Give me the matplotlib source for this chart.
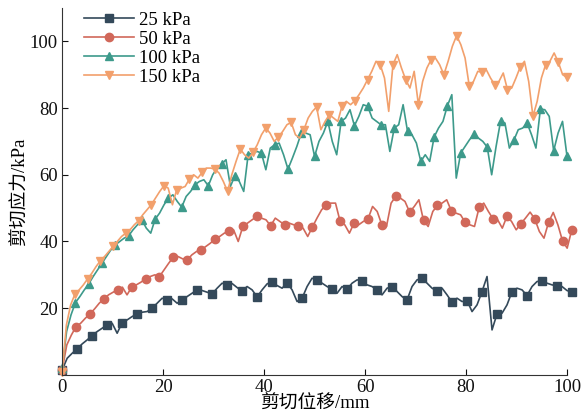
import numpy as np
import matplotlib
matplotlib.use("Agg")
import matplotlib.pyplot as plt

plt.rcParams['font.family'] = ['Liberation Serif', 'Noto Sans CJK SC']
plt.rcParams['font.size'] = 13.5

# sampling interval of each test (mm per sample)
step_25 = 0.99
step_50 = 0.9176
step_100 = 0.877
step_150 = 0.84

# shear stress (kPa)
tau_25 = [
    1.5, 5, 6.5, 7.8, 9.3, 10.5, 11.8, 13, 14, 15,
    15.5, 12.5, 15.7, 16.5, 17.5, 18.3, 18.8, 19, 20, 21.5,
    23, 22.5, 22.8, 21.5, 22.5, 23.5, 24.5, 25.5, 25.3, 24.8,
    24.3, 26, 27.5, 27, 27.4, 26.2, 25.2, 26.5, 25.5, 23.4,
    25.5, 27.3, 27.9, 26.8, 26, 27.6, 25.5, 22, 23, 26.5,
    29, 28.5, 27.5, 26.5, 25.7, 24.5, 26.5, 25.7, 27.5, 28.5,
    28.2, 27, 26.5, 25.5, 24, 26, 26.5, 25, 23.5, 22.5,
    26.5, 28.5, 29, 27.5, 26, 25.2, 26, 24, 21.8, 23,
    22, 22.3, 19, 21, 25, 29.5, 13.5, 18.3, 18.5, 21,
    25, 26, 25.5, 23.8, 26.5, 28, 28.2, 27.5, 27, 26.7,
    26.5, 25.3, 24.8]

tau_50 = [
    1.5, 9, 12, 14.5, 15.5, 17, 18.3, 19.8, 21.5, 22.8,
    24, 24.8, 25.5, 26.3, 24, 26.3, 27, 27.8, 28.8, 29.5,
    30, 29.5, 31.5, 33.5, 35.3, 35.5, 34.8, 34.5, 36, 37,
    37.5, 38.5, 39.5, 40.8, 41.5, 42.5, 43, 43.5, 40, 44.5,
    45.5, 46.5, 47.5, 47, 46.5, 44.7, 47, 46, 45, 45.5,
    45, 44.5, 44, 41.5, 44.3, 47, 49.5, 51, 51.5, 51.5,
    46, 45, 42.5, 45.5, 45, 46, 46.7, 50.5, 49, 45,
    44.5, 51.5, 53.5, 53, 52, 48.8, 50.5, 52.5, 46.3, 44.5,
    49, 50.8, 51.5, 52.5, 49.2, 48.5, 48, 45.7, 45, 44.5,
    50.2, 51.5, 49, 46.8, 46.5, 44, 47.5, 46, 43.5, 45.3,
    47, 48.8, 46.8, 43, 41, 45.8, 48.7, 45, 40.2, 38, 43.5]

tau_100 = [
    2, 13, 18, 21.7, 23.5, 25.5, 27.3, 29.5, 31.5, 33.5,
    35.5, 37.5, 39, 40, 41, 41.7, 43.5, 45, 46.5, 44,
    42.5, 46.7, 48.5, 51, 53, 54, 52, 50.3, 53.5, 55,
    57, 58, 58.5, 56.7, 60, 62, 63.2, 64.5, 56.5, 59.7,
    58, 55, 66, 66.5, 67, 66.5, 61.5, 68, 69, 69.5,
    66, 61.7, 65, 68.5, 72.5, 72.5, 72, 65.5, 70, 72.5,
    76, 70, 66, 76, 77, 79.5, 74.7, 77.5, 81, 80.5,
    77, 76, 75, 75, 67, 74, 75, 81, 73, 72,
    69.5, 64, 66, 64, 71.3, 74, 76, 80.7, 84, 59,
    66.5, 68.5, 70.5, 72.2, 71, 70, 68.3, 60, 68.5, 76,
    75.5, 68, 70.3, 73.5, 74, 75.5, 72, 68, 79.7, 79.5,
    77.5, 67.2, 72.5, 76, 65.7]

tau_150 = [
    1, 15, 21, 24.2, 25.5, 27, 28.8, 30.5, 32.5, 34.2,
    35.5, 37, 38.5, 40, 41.5, 42.5, 43.5, 45, 46.2, 48,
    49.5, 51, 53, 55, 56.7, 56, 51, 55.5, 56, 56.5,
    58.7, 60, 59, 60.7, 62, 62, 61.7, 60.5, 58, 55,
    60, 64, 67.7, 66, 65, 66.7, 69, 72, 74, 72.5,
    70, 71.3, 73, 75, 75.7, 72, 71, 73.5, 77, 79,
    80.3, 73.5, 76, 78, 77, 76, 80.7, 82, 81, 82.2,
    84, 86, 88.5, 91, 94, 93, 89, 79, 93, 96,
    92, 88.5, 86, 91, 81, 88, 92, 94.5, 95, 93,
    90, 94, 98.5, 101.7, 99, 95, 86.5, 88, 91, 90.7,
    91.5, 89, 87, 88, 90.5, 85.5, 86, 89, 92.3, 94,
    88, 77.5, 82, 89, 93, 94, 96.5, 93.7, 90, 89.2]

labels = ['25 kPa', '50 kPa', '100 kPa', '150 kPa']
colors = ['#34495a', '#d1685a', '#3d9a8b', '#f2a06c']
markers = ['s', 'o', '^', 'v']
series = [(step_25, tau_25), (step_50, tau_50), (step_100, tau_100), (step_150, tau_150)]

fig = plt.figure(figsize=(5.81, 4.18), dpi=100)
ax = fig.add_axes([0.107, 0.103, 0.869, 0.878])

for (step, tau), lab, c, m in zip(series, labels, colors, markers):
    n = len(tau)
    disp = np.arange(n) * step
    every = sorted(set(list(range(0, n, 3)) + [n - 1]))
    ax.plot(disp, tau, color=c, lw=1.2, marker=m, markersize=6,
            markevery=every, label=lab, clip_on=False)

ax.set_xlim(0, 100)
ax.set_ylim(0, 110)
ax.set_xticks([0, 20, 40, 60, 80, 100])
ax.set_yticks([20, 40, 60, 80, 100])
ax.tick_params(direction='in', length=4, width=0.8, labelsize=13.5, colors='#111111', pad=3)
for s in ['top', 'right']:
    ax.spines[s].set_visible(False)
for s in ['left', 'bottom']:
    ax.spines[s].set_color('#333333')

ax.set_xlabel('剪切位移/mm', fontsize=13.5, labelpad=0)
ax.set_ylabel('剪切应力/kPa', fontsize=13.5, labelpad=1)

ax.legend(loc='upper left', bbox_to_anchor=(0.02, 1.02), frameon=False,
          handlelength=2.7, handletextpad=0.25, labelspacing=0.1,
          borderaxespad=0.2, fontsize=13.5)

fig.savefig('out.png', dpi=100)
